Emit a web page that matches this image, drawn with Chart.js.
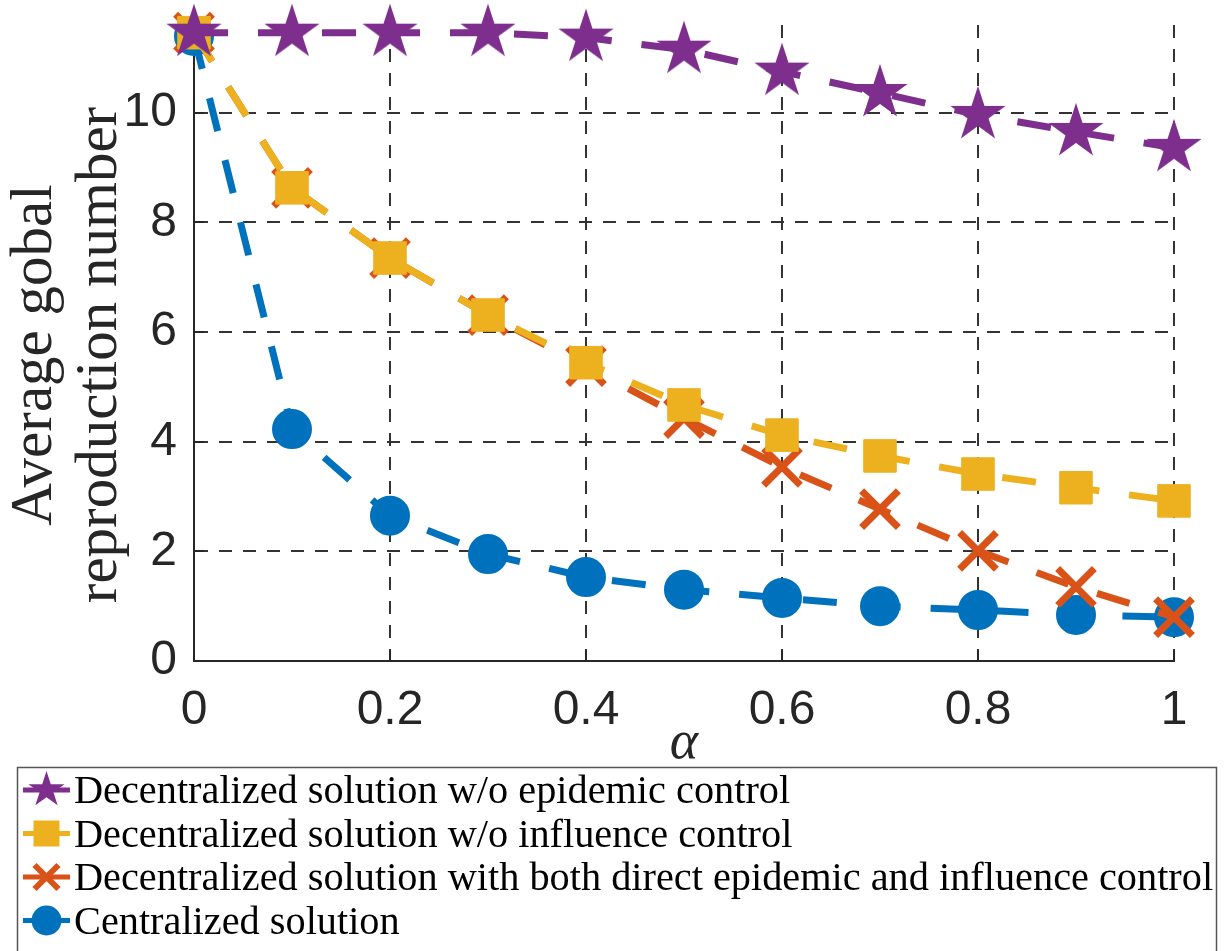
<!DOCTYPE html>
<html>
<head>
<meta charset="utf-8">
<script src="https://cdn.jsdelivr.net/npm/chart.js@4.4.1/dist/chart.umd.min.js"></script>
<style>
  html, body { margin: 0; padding: 0; background: #ffffff; }
  canvas { display: block; }
</style>
</head>
<body>
<canvas id="chart" width="1227" height="951"></canvas>
<script>
// alpha values on the horizontal axis
const alpha = [0, 0.1, 0.2, 0.3, 0.4, 0.5, 0.6, 0.7, 0.8, 0.9, 1.0];

// average global reproduction number per strategy
const noEpidemicCtrl  = [11.46, 11.46, 11.46, 11.46, 11.37, 11.15, 10.75, 10.36, 9.96, 9.65, 9.36];
const noInfluenceCtrl = [11.46, 8.63, 7.35, 6.31, 5.44, 4.67, 4.12, 3.74, 3.41, 3.16, 2.92];
const bothCtrl        = [11.46, 8.63, 7.35, 6.31, 5.38, 4.43, 3.54, 2.77, 2.01, 1.35, 0.80];
const centralized     = [11.40, 4.23, 2.65, 1.95, 1.53, 1.30, 1.15, 1.00, 0.93, 0.84, 0.80];

const seriesNames = [
  'Decentralized solution w/o epidemic control',
  'Decentralized solution w/o influence control',
  'Decentralized solution with both direct epidemic and influence control',
  'Centralized solution'
];

const xTicks = [0, 0.2, 0.4, 0.6, 0.8, 1];
const yTicks = [0, 2, 4, 6, 8, 10];
const xTitle = 'α';
const yTitleLines = ['Average gobal', 'reproduction number'];

const PURPLE = '#7E2F8E';
const YELLOW = '#EDB120';
const ORANGE = '#D95319';
const BLUE   = '#0072BD';
const INK    = '#262626';

// filled five-pointed star path
function starPath(ctx, cx, cy, R) {
  const r = R * 0.382;
  ctx.beginPath();
  for (let i = 0; i < 10; i++) {
    const a = -Math.PI / 2 + i * Math.PI / 5;
    const rad = i % 2 ? r : R;
    const px = cx + rad * Math.cos(a), py = cy + rad * Math.sin(a);
    if (i === 0) ctx.moveTo(px, py); else ctx.lineTo(px, py);
  }
  ctx.closePath();
}

function starImage(R, color) {
  const s = Math.ceil(2 * R + 4);
  const c = document.createElement('canvas');
  c.width = s; c.height = s;
  const g = c.getContext('2d');
  starPath(g, s / 2, s / 2, R);
  g.fillStyle = color;
  g.fill();
  return c;
}

const toPoints = arr => alpha.map((a, i) => ({ x: a, y: arr[i] }));

const lineBase = {
  borderWidth: 7,
  borderDash: [34, 30],
  tension: 0,
  fill: false,
  clip: false
};

// inward tick marks on the left and bottom axes
const innerTicks = {
  id: 'innerTicks',
  beforeDatasetsDraw(chart) {
    const { ctx, chartArea: { left, bottom }, scales: { x, y } } = chart;
    ctx.save();
    ctx.strokeStyle = INK;
    ctx.lineWidth = 2;
    ctx.beginPath();
    yTicks.forEach(v => {
      const p = Math.round(y.getPixelForValue(v));
      ctx.moveTo(left, p); ctx.lineTo(left + 10, p);
    });
    xTicks.forEach(v => {
      const p = Math.round(x.getPixelForValue(v));
      ctx.moveTo(p, bottom); ctx.lineTo(p, bottom - 10);
    });
    ctx.stroke();
    ctx.restore();
  }
};

// two-line vertical axis title
const yTitle = {
  id: 'yTitle',
  afterDraw(chart) {
    const { ctx, chartArea: { top, bottom } } = chart;
    const yc = (top + bottom) / 2 + 12;
    const baselines = [51, 116];
    ctx.save();
    ctx.fillStyle = INK;
    ctx.font = '59px "Liberation Serif"';
    ctx.textAlign = 'center';
    ctx.textBaseline = 'alphabetic';
    yTitleLines.forEach((line, i) => {
      ctx.save();
      ctx.translate(baselines[i], yc);
      ctx.rotate(-Math.PI / 2);
      ctx.fillText(line, 0, 0);
      ctx.restore();
    });
    ctx.restore();
  }
};

// boxed legend beneath the axes
const boxedLegend = {
  id: 'boxedLegend',
  afterDraw(chart) {
    const { ctx } = chart;
    ctx.save();
    ctx.strokeStyle = '#555555';
    ctx.lineWidth = 1.5;
    ctx.strokeRect(17.5, 767.5, 1199, 200);

    const colors = [PURPLE, YELLOW, ORANGE, BLUE];
    ctx.font = '40.3px "Liberation Serif"';
    ctx.textAlign = 'left';
    ctx.textBaseline = 'alphabetic';
    seriesNames.forEach((name, i) => {
      const cy = 790 + 43.5 * i;
      const col = colors[i];
      const mx = 46.5;
      ctx.strokeStyle = col;
      ctx.lineWidth = 5;
      ctx.beginPath();
      ctx.moveTo(23, cy); ctx.lineTo(70, cy);
      ctx.stroke();
      ctx.fillStyle = col;
      if (i === 0) {
        starPath(ctx, mx, cy, 19);
        ctx.fill();
      } else if (i === 1) {
        ctx.fillRect(mx - 13, cy - 13, 26, 26);
      } else if (i === 2) {
        ctx.lineWidth = 6;
        ctx.beginPath();
        ctx.moveTo(mx - 12, cy - 12); ctx.lineTo(mx + 12, cy + 12);
        ctx.moveTo(mx - 12, cy + 12); ctx.lineTo(mx + 12, cy - 12);
        ctx.stroke();
      } else {
        ctx.beginPath();
        ctx.arc(mx, cy, 15, 0, Math.PI * 2);
        ctx.fill();
      }
      ctx.fillStyle = '#000000';
      ctx.fillText(name, 74, cy + 13);
    });
    ctx.restore();
  }
};

const gridOpts = { color: '#333333', lineWidth: 2, drawTicks: false };
const borderOpts = { display: true, color: INK, width: 2, dash: [13, 11] };

new Chart(document.getElementById('chart'), {
  type: 'line',
  data: {
    datasets: [
      Object.assign({}, lineBase, {
        label: seriesNames[0],
        data: toPoints(noEpidemicCtrl),
        borderColor: PURPLE,
        backgroundColor: PURPLE,
        pointStyle: starImage(29, PURPLE),
        pointRadius: 29,
        pointBorderWidth: 0
      }),
      Object.assign({}, lineBase, {
        label: seriesNames[1],
        data: toPoints(noInfluenceCtrl),
        borderColor: YELLOW,
        backgroundColor: YELLOW,
        pointStyle: 'rect',
        pointRadius: 23,
        pointBorderWidth: 1,
        pointBorderColor: YELLOW,
        pointBackgroundColor: YELLOW
      }),
      Object.assign({}, lineBase, {
        label: seriesNames[2],
        data: toPoints(bothCtrl),
        borderColor: ORANGE,
        backgroundColor: ORANGE,
        pointStyle: 'crossRot',
        pointRadius: 26,
        pointBorderWidth: 7,
        pointBorderColor: ORANGE
      }),
      Object.assign({}, lineBase, {
        label: seriesNames[3],
        data: toPoints(centralized),
        borderColor: BLUE,
        backgroundColor: BLUE,
        pointStyle: 'circle',
        pointRadius: 19,
        pointBorderWidth: 2,
        pointBorderColor: BLUE,
        pointBackgroundColor: BLUE
      })
    ]
  },
  options: {
    responsive: false,
    animation: false,
    devicePixelRatio: 1,
    events: [],
    layout: { autoPadding: false, padding: { left: 0, top: 25, right: 53, bottom: 180 } },
    plugins: {
      legend: { display: false },
      tooltip: { enabled: false }
    },
    scales: {
      x: {
        type: 'linear',
        min: 0,
        max: 1,
        afterFit: s => { s.height = 110; },
        afterBuildTicks: s => { s.ticks = xTicks.map(v => ({ value: v })); },
        ticks: {
          padding: 26,
          color: INK,
          font: { family: 'Liberation Sans', size: 48, lineHeight: 1 },
          maxRotation: 0,
          autoSkip: false,
          callback: v => String(v)
        },
        grid: gridOpts,
        border: borderOpts,
        title: {
          display: true,
          text: xTitle,
          color: INK,
          font: { family: 'Liberation Serif', style: 'italic', size: 54, lineHeight: 1 },
          padding: { top: 0, bottom: 0 }
        }
      },
      y: {
        type: 'linear',
        min: 0,
        max: 11.6,
        afterFit: s => { s.width = 194; s.paddingTop = 0; s.paddingBottom = 0; },
        afterBuildTicks: s => { s.ticks = yTicks.map(v => ({ value: v })); },
        ticks: {
          padding: 17,
          color: INK,
          font: { family: 'Liberation Sans', size: 48, lineHeight: 1 },
          callback: v => String(v)
        },
        grid: gridOpts,
        border: borderOpts,
        title: { display: false }
      }
    }
  },
  plugins: [innerTicks, yTitle, boxedLegend]
});
</script>
</body>
</html>
